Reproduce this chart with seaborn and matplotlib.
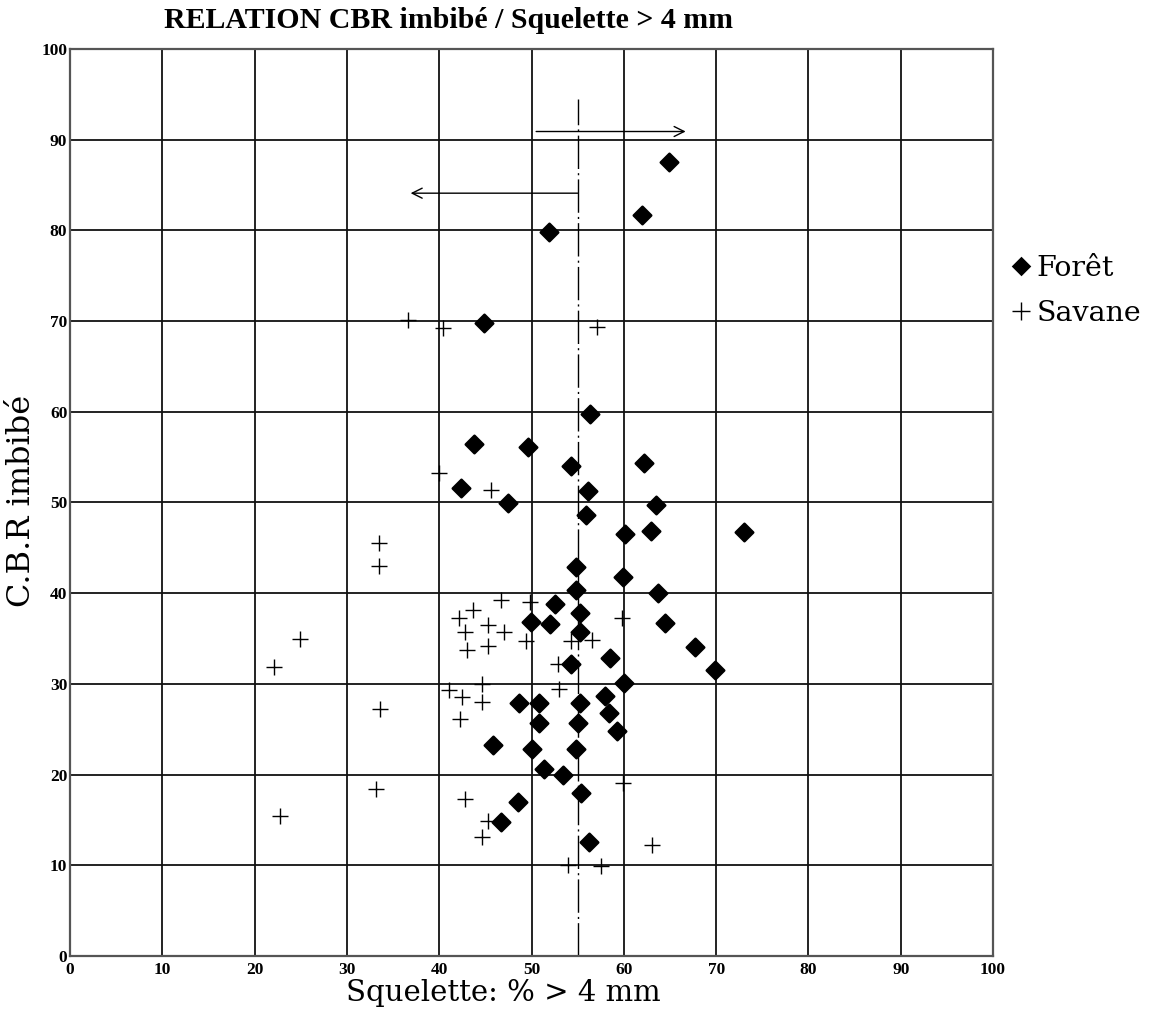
import numpy as np
import pandas as pd
import seaborn as sns
import matplotlib.pyplot as plt
from matplotlib.lines import Line2D

# --- values ---
foret_x = [64.9, 62.0, 51.9, 44.8, 56.3, 43.8, 49.6, 54.3, 62.2, 42.4,
           56.1, 47.5, 63.5, 55.9, 60.1, 62.9, 73.0, 54.8, 59.9, 54.8,
           63.7, 52.5, 55.3, 49.9, 52.0, 64.5, 55.3, 67.7, 58.5, 54.3,
           69.9, 60.0, 48.6, 50.8, 55.3, 58.0, 58.4, 50.8, 55.0, 59.3,
           45.8, 50.1, 54.8, 51.4, 53.4, 55.4, 48.5, 46.7, 56.2]
foret_y = [87.5, 81.7, 79.8, 69.8, 59.8, 56.4, 56.1, 54.0, 54.3, 51.6,
           51.3, 49.9, 49.7, 48.6, 46.5, 46.8, 46.7, 42.9, 41.8, 40.4,
           40.0, 38.8, 37.8, 36.8, 36.6, 36.7, 35.7, 34.1, 32.9, 32.2,
           31.5, 30.1, 27.9, 27.9, 27.9, 28.7, 26.8, 25.7, 25.7, 24.8,
           23.3, 22.8, 22.8, 20.6, 20.0, 18.0, 17.0, 14.8, 12.6]

savane_x = [36.6, 40.4, 57.1, 40.0, 45.6, 33.5, 33.5, 46.7, 49.8, 43.7,
            42.1, 45.3, 42.8, 47.0, 49.4, 43.0, 45.3, 54.3, 56.6, 59.8,
            24.9, 22.1, 52.9, 53.0, 41.1, 42.5, 44.6, 44.6, 42.2, 33.6,
            33.1, 22.7, 42.8, 45.3, 44.6, 59.9, 63.0, 54.0, 57.5]
savane_y = [70.1, 69.2, 69.4, 53.3, 51.4, 45.5, 43.0, 39.2, 39.0, 38.1,
            37.3, 36.5, 35.7, 35.7, 34.7, 33.7, 34.2, 34.7, 34.8, 37.3,
            35.0, 31.9, 32.2, 29.4, 29.3, 28.5, 30.0, 28.0, 26.1, 27.2,
            18.4, 15.4, 17.3, 14.9, 13.1, 19.1, 12.2, 10.0, 9.9]

threshold = 55
threshold_top = 94.5
arrow_right = (50.5, 66.7, 90.9)   # x start, x end, y
arrow_left = (55.0, 36.9, 84.1)

ticks = list(range(0, 101, 10))

df_foret = pd.DataFrame({'x': foret_x, 'y': foret_y})
df_savane = pd.DataFrame({'x': savane_x, 'y': savane_y})

# --- style ---
sns.set_style("white")
plt.rcParams['font.family'] = ['DejaVu Serif']
plt.rcParams['text.color'] = 'black'
plt.rcParams['axes.labelcolor'] = 'black'
plt.rcParams['xtick.color'] = 'black'
plt.rcParams['ytick.color'] = 'black'

fig = plt.figure(figsize=(11.5, 10.16), dpi=100)
ax = fig.add_axes([0.0609, 0.0591, 0.8026, 0.8927])

sns.scatterplot(data=df_foret, x='x', y='y', ax=ax, marker='D', s=80,
                color='black', edgecolor='black', linewidth=1.8, zorder=4)
ax.collections[-1].set_joinstyle('round')
sns.scatterplot(data=df_savane, x='x', y='y', ax=ax, marker='+', s=125,
                color='black', linewidth=1.0, zorder=3)

# threshold line and arrows
ax.plot([threshold, threshold], [0, threshold_top], color='black', lw=1.0,
        linestyle=(0, (24, 3, 1.5, 3)), zorder=2)
ax.annotate('', xy=(arrow_right[1], arrow_right[2]), xytext=(arrow_right[0], arrow_right[2]),
            arrowprops=dict(arrowstyle='->', lw=1.0, color='black',
                            mutation_scale=18, shrinkA=0, shrinkB=0))
ax.annotate('', xy=(arrow_left[1], arrow_left[2]), xytext=(arrow_left[0], arrow_left[2]),
            arrowprops=dict(arrowstyle='->', lw=1.0, color='black',
                            mutation_scale=18, shrinkA=0, shrinkB=0))

ax.set_xlim(0, 100)
ax.set_ylim(0, 100)
ax.set_xticks(ticks)
ax.set_yticks(ticks)
ax.grid(True, color='#111111', lw=1.3)
ax.set_axisbelow(True)
for sp in ax.spines.values():
    sp.set_color('#555555')
    sp.set_linewidth(1.6)
ax.tick_params(axis='x', length=0, pad=4)
ax.tick_params(axis='y', length=0, pad=2)
for lab in ax.get_xticklabels() + ax.get_yticklabels():
    lab.set_family('Liberation Serif')
    lab.set_fontweight('bold')
    lab.set_fontsize(12.5)

ax.set_xlabel('Squelette: % > 4 mm', fontsize=21)
ax.xaxis.set_label_coords(0.469, -0.025)
ax.set_ylabel('C.B.R imbibé', fontsize=23)
ax.yaxis.set_label_coords(-0.036, 0.502)

fig.text(0.39, 0.980, 'RELATION CBR imbibé / Squelette > 4 mm', ha='center', va='center',
         family='Liberation Serif', fontweight='bold', fontsize=21.5)

handles = [Line2D([], [], marker='D', color='black', linestyle='none', markersize=8.5,
                  markeredgewidth=1.8, markeredgecolor='black'),
           Line2D([], [], marker='+', color='black', linestyle='none', markersize=13,
                  markeredgewidth=1.0)]
fig.legend(handles, ['Forêt', 'Savane'], loc='upper left',
           bbox_to_anchor=(0.868, 0.763), frameon=False, fontsize=20.5,
           handlelength=0.6, handletextpad=0.25, labelspacing=0.62, borderpad=0)

plt.savefig('out.png', dpi=100)
